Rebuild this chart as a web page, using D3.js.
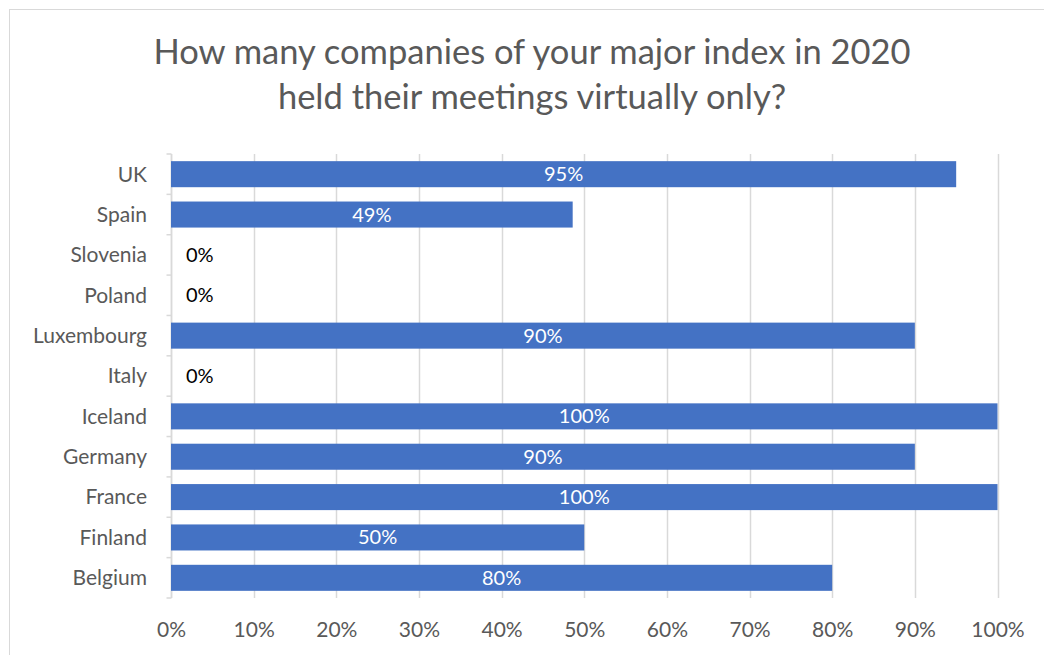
<html lang="en">
<head>
	<meta charset="UTF-8"/>
	<title>Virtual meetings 2020</title>
    <script src="https://d3js.org/d3.v7.min.js"></script>
    <style>
        body {
            margin: 0;
            background-color: white;
        }
        text {
            font-family: Lato, "Open Sans", sans-serif;
        }
    </style>
</head>
<body>
    <script>
        // data (top to bottom)
        var countries = ["UK", "Spain", "Slovenia", "Poland", "Luxembourg", "Italy", "Iceland", "Germany", "France", "Finland", "Belgium"];
        var shares = [0.95, 0.486, 0, 0, 0.90, 0, 1.00, 0.90, 1.00, 0.50, 0.80];
        var xTicks = [0, 0.1, 0.2, 0.3, 0.4, 0.5, 0.6, 0.7, 0.8, 0.9, 1.0];
        var titleLines = ["How many companies of your major index in 2020", "held their meetings virtually only?"];

        var w = 1044;
        var h = 655;
        var plotLeft = 171;
        var plotRight = 997.5;
        var plotTop = 154;
        var plotBottom = 598;
        var barColor = "#4472C4";
        var textColor = "#595959";
        var gridColor = "#d9d9d9";

        var svg = d3.select("body")
                    .append("svg")
                    .attr("width", w)
                    .attr("height", h);

        // chart border
        svg.append("rect")
            .attr("x", 9.5)
            .attr("y", 9.5)
            .attr("width", w + 20)
            .attr("height", h + 20)
            .attr("fill", "white")
            .attr("stroke", gridColor)
            .attr("stroke-width", 1);

        var xScale = d3.scaleLinear()
                        .domain([0, 1])
                        .range([plotLeft, plotRight]);

        var yScale = d3.scaleBand()
                        .domain(countries)
                        .range([plotTop, plotBottom])
                        .paddingInner(0.355)
                        .paddingOuter(0.1775);

        // title
        svg.selectAll(".title")
            .data(titleLines)
            .enter()
            .append("text")
            .attr("class", "title")
            .attr("x", 532)
            .attr("y", function(d, i) {
                return 64 + i * 45;
            })
            .attr("text-anchor", "middle")
            .attr("fill", textColor)
            .style("font-size", "34.5px")
            .text(function(d) { return d; });

        // vertical gridlines
        svg.selectAll(".grid")
            .data(xTicks)
            .enter()
            .append("line")
            .attr("class", "grid")
            .attr("x1", function(d) { return Math.round(xScale(d)) + 0.5; })
            .attr("x2", function(d) { return Math.round(xScale(d)) + 0.5; })
            .attr("y1", plotTop)
            .attr("y2", plotBottom)
            .attr("stroke", gridColor)
            .attr("stroke-width", 1.5);

        // x axis labels
        var xAxis = d3.axisBottom(xScale)
                        .tickValues(xTicks)
                        .tickFormat(d3.format(".0%"))
                        .tickSize(0)
                        .tickPadding(24);

        var gx = svg.append("g")
            .attr("transform", "translate(0," + plotBottom + ")")
            .call(xAxis);
        gx.select(".domain").remove();
        gx.selectAll("text")
            .attr("fill", textColor)
            .style("font-size", "21px");

        // y axis with ticks between categories
        var gy = svg.append("g")
            .attr("transform", "translate(" + (plotLeft + 0.5) + ",0)");

        gy.append("line")
            .attr("y1", plotTop)
            .attr("y2", plotBottom)
            .attr("stroke", gridColor)
            .attr("stroke-width", 1.5);

        var bounds = d3.range(countries.length + 1).map(function(i) {
            return plotTop + i * yScale.step();
        });

        gy.selectAll(".ytick")
            .data(bounds)
            .enter()
            .append("line")
            .attr("class", "ytick")
            .attr("x1", -5)
            .attr("x2", 0)
            .attr("y1", function(d) { return d; })
            .attr("y2", function(d) { return d; })
            .attr("stroke", gridColor)
            .attr("stroke-width", 1.5);

        svg.selectAll(".cat")
            .data(countries)
            .enter()
            .append("text")
            .attr("class", "cat")
            .attr("x", 147)
            .attr("y", function(d) {
                return yScale(d) + yScale.bandwidth() / 2;
            })
            .attr("dy", "0.35em")
            .attr("text-anchor", "end")
            .attr("fill", textColor)
            .style("font-size", "21px")
            .text(function(d) { return d; });

        // bars
        svg.selectAll(".bar")
            .data(shares)
            .enter()
            .append("rect")
            .attr("class", "bar")
            .attr("fill", barColor)
            .attr("x", xScale(0))
            .attr("y", function(d, i) {
                return yScale(countries[i]);
            })
            .attr("width", function(d) {
                return xScale(d) - xScale(0);
            })
            .attr("height", yScale.bandwidth());

        // data labels
        svg.selectAll(".label")
            .data(shares)
            .enter()
            .append("text")
            .attr("class", "label")
            .attr("x", function(d) {
                if (d == 0) return xScale(0) + 15;
                return (xScale(0) + xScale(d)) / 2;
            })
            .attr("y", function(d, i) {
                return yScale(countries[i]) + yScale.bandwidth() / 2;
            })
            .attr("dy", "0.35em")
            .attr("text-anchor", function(d) {
                return d == 0 ? "start" : "middle";
            })
            .attr("fill", function(d) {
                return d == 0 ? "black" : "white";
            })
            .style("font-size", "20px")
            .text(function(d) {
                return Math.round(d * 100) + "%";
            });
    </script>
</body>
</html>
